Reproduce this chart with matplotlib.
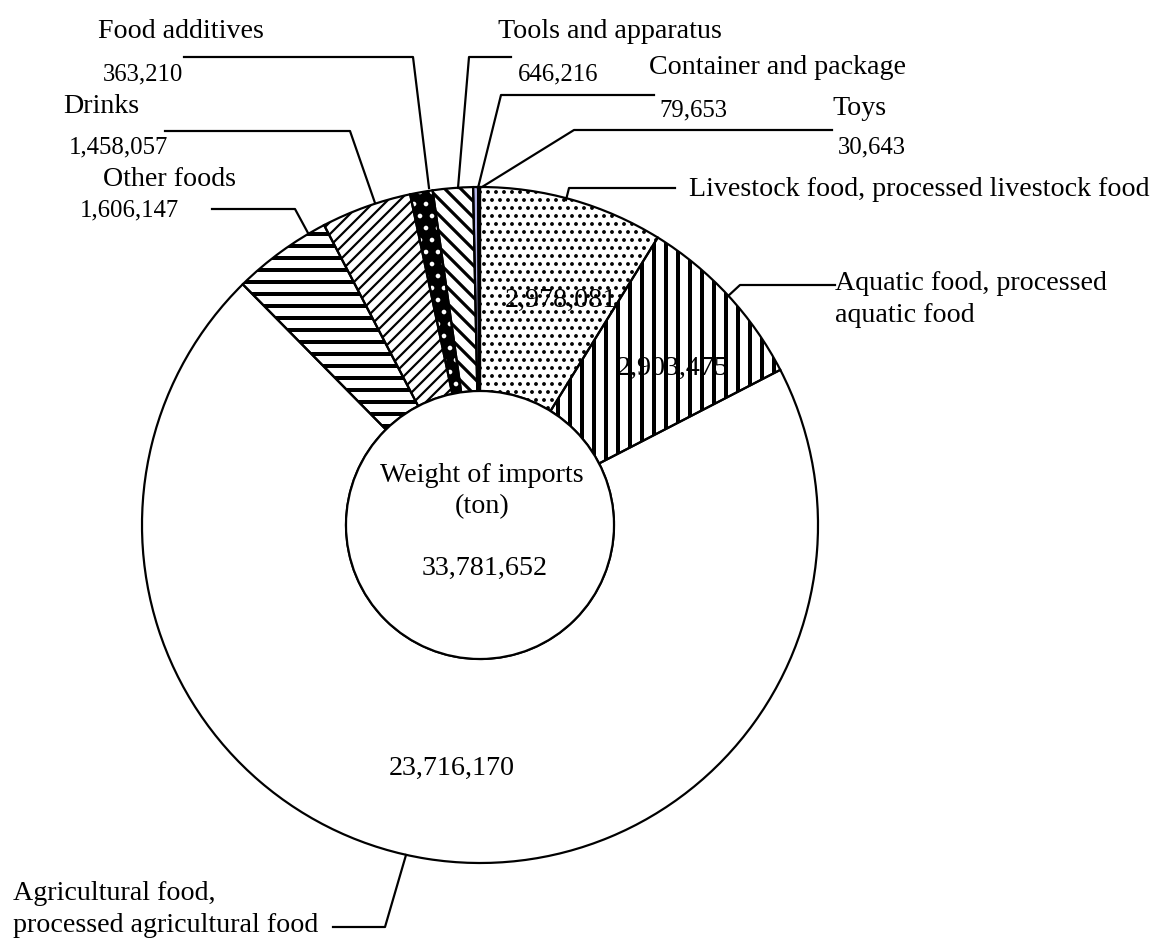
import numpy as np
import matplotlib
matplotlib.use('Agg')
import matplotlib.pyplot as plt
from matplotlib.patches import Circle

plt.rcParams['font.family'] = ['Liberation Serif', 'DejaVu Serif']

# Data: weight of imports (ton), clockwise from the top
categorias = ['Livestock food, processed livestock food',
              'Aquatic food, processed\naquatic food',
              'Agricultural food,\nprocessed agricultural food',
              'Other foods', 'Drinks', 'Food additives',
              'Tools and apparatus', 'Container and package', 'Toys']
pesos = [2978081, 2903475, 23716170, 1606147, 1458057, 363210, 646216, 79653, 30643]
total = 33781652

# fill styles per slice
caras = ['white', 'white', 'white', 'white', 'white', 'black', 'white', '#b4b4ea', '#b4b4ea']
tramas = ['...', '||', '', '--', '////', '..', '\\\\\\', '', '']
cor_trama = ['black', 'black', 'black', 'black', 'black', 'white', 'black', 'black', 'black']
lw_trama = [1.1, 2.0, 1.0, 2.0, 1.1, 1.1, 1.6, 1.0, 1.0]

W, H = 1154, 941


def Y(y):
    # pixel row (from top) -> data y
    return H - y


fig = plt.figure(figsize=(W / 144, H / 144), dpi=144)
ax = fig.add_axes([0, 0, 1, 1])

cx, cy, R, r_in = 480, Y(525), 338, 134

wedges, _ = ax.pie(pesos, startangle=90, counterclock=False, radius=R, center=(cx, cy),
                   wedgeprops=dict(width=R - r_in, linewidth=0))
for w, fc, h, hc, hlw in zip(wedges, caras, tramas, cor_trama, lw_trama):
    w.set_facecolor(fc)
    w.set_edgecolor(hc)
    w.set_linewidth(0)
    if h:
        w.set_hatch(h)
        if hasattr(w, 'set_hatch_linewidth'):
            w.set_hatch_linewidth(hlw)

# black outlines
ax.pie(pesos, startangle=90, counterclock=False, radius=R, center=(cx, cy),
       wedgeprops=dict(width=R - r_in, fill=False, edgecolor='black', linewidth=1.1))

ax.add_patch(Circle((cx, cy), r_in, facecolor='white', edgecolor='black', linewidth=1.1, zorder=5))

# values inside the big slices
desvio = [(14, -9), (14, -9), (10, -3)]
for i in [0, 1, 2]:
    w = wedges[i]
    ang = np.deg2rad((w.theta1 + w.theta2) / 2)
    dx, dy = desvio[i]
    ax.text(cx + 0.72 * R * np.cos(ang) + dx, cy + 0.72 * R * np.sin(ang) + dy, f'{pesos[i]:,}',
            fontsize=14, ha='center', va='center', zorder=6)

# centre text
ax.text(cx + 2, Y(491), 'Weight of imports\n(ton)', fontsize=14, ha='center', va='center',
        linespacing=1.35, zorder=6)
ax.text(cx + 5, Y(568), f'{total:,}', fontsize=14, ha='center', va='center', zorder=6)

# outside labels: (index, name position, value position)
rotulos = [
    (5, (98, 19), (103, 63)),
    (6, (498, 19), (518, 63)),
    (7, (649, 55), (659, 99)),
    (4, (63, 94), (69, 136)),
    (8, (832, 96), (838, 136)),
    (3, (103, 167), (80, 199)),
]
for i, (nx, ny), (vx, vy) in rotulos:
    ax.text(nx, Y(ny), categorias[i], fontsize=14, ha='left', va='top')
    ax.text(vx, Y(vy), f'{pesos[i]:,}', fontsize=12.4, ha='left', va='top')

ax.text(689, Y(177), categorias[0], fontsize=14, ha='left', va='top')
ax.text(835, Y(271), categorias[1], fontsize=14, ha='left', va='top', linespacing=1.35)
ax.text(13, Y(938), categorias[2], fontsize=14, ha='left', va='bottom', linespacing=1.35)

# leader lines
linhas = [
    [(184, 57), (413, 57), (429, 188)],
    [(511, 57), (469, 57), (458, 188)],
    [(654, 95), (501, 95), (478, 188)],
    [(832, 130), (574, 130), (482, 187)],
    [(165, 131), (350, 131), (375, 203)],
    [(212, 209), (295, 209), (308, 233)],
    [(675, 188), (569, 188), (566, 200)],
    [(835, 285), (740, 285), (727, 297)],
    [(333, 927), (385, 927), (406, 855)],
]
for pts in linhas:
    xs = [p[0] for p in pts]
    ys = [Y(p[1]) for p in pts]
    ax.plot(xs, ys, color='black', linewidth=1.1)

ax.set_xlim(0, W)
ax.set_ylim(0, H)
ax.set_aspect('auto')
ax.axis('off')

fig.savefig('out.png', dpi=144, facecolor='white')
